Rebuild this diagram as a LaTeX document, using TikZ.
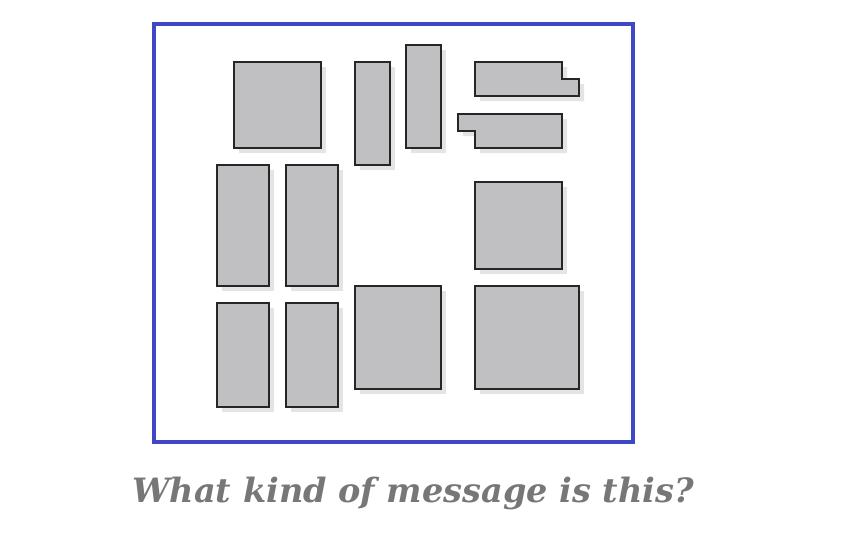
\documentclass[tikz,border=0pt]{standalone}
\usepackage{fontspec}
\setmainfont{DejaVu Serif}
\definecolor{frameblue}{HTML}{3F48C4}
\definecolor{boxgray}{HTML}{C0C0C2}
\definecolor{shadowgray}{HTML}{E4E4E4}
\definecolor{textgray}{HTML}{777777}
\tikzset{
  piece/.style={fill=boxgray, draw=black!85, line width=1.2pt, line join=miter},
  pshadow/.style={fill=shadowgray, draw=none},
}
\newcommand{\piecepath}[1]{%
  \fill[pshadow, shift={(5,5)}] #1;
  \draw[piece] #1;
}
\begin{document}
\begin{tikzpicture}[x=1pt,y=-1pt]
\useasboundingbox (0,0) rectangle (860,557);
\fill[white] (0,0) rectangle (860,557);
\draw[frameblue, line width=4pt] (154,24) rectangle (633,442);
% pieces
\piecepath{(234,62) rectangle (321,148)}
\piecepath{(355,62) rectangle (390,165)}
\piecepath{(406,45) rectangle (441,148)}
\piecepath{(475,62) -- (562,62) -- (562,79) -- (579,79) -- (579,96) -- (475,96) -- cycle}
\piecepath{(458,114) -- (562,114) -- (562,148) -- (475,148) -- (475,131) -- (458,131) -- cycle}
\piecepath{(475,182) rectangle (562,269)}
\piecepath{(217,165) rectangle (269,286)}
\piecepath{(286,165) rectangle (338,286)}
\piecepath{(217,303) rectangle (269,407)}
\piecepath{(286,303) rectangle (338,407)}
\piecepath{(355,286) rectangle (441,389)}
\piecepath{(475,286) rectangle (579,389)}
\node[text=textgray, anchor=base, inner sep=0pt, font=\fontsize{33.5}{38}\selectfont\bfseries\itshape] (caption) at (413,502) {What kind of message is this?};
\end{tikzpicture}
\end{document}
